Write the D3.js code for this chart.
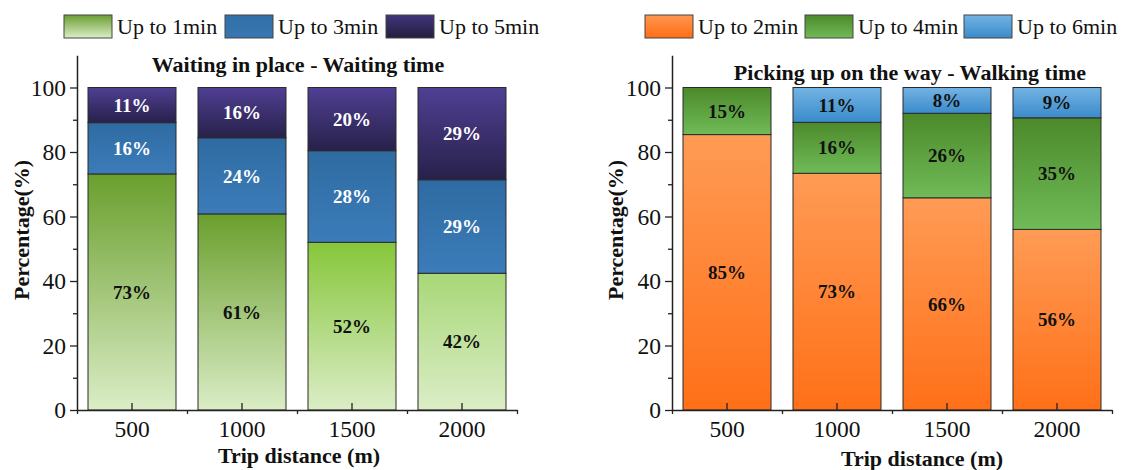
<!DOCTYPE html>
<html>
<head>
<meta charset="utf-8">
<script src="https://cdn.jsdelivr.net/npm/d3@7"></script>
<style>
  html, body { margin: 0; padding: 0; background: #fff; }
  svg { display: block; }
  text { font-family: "Liberation Serif", "Times New Roman", serif; }
</style>
</head>
<body>
<svg id="chart" width="1124" height="470"></svg>
<script>
// ---------- data ----------
const categories = ["500", "1000", "1500", "2000"];
const yTickValues = [0, 20, 40, 60, 80, 100];
const yMinorTickValues = [10, 30, 50, 70, 90];

const leftSeriesNames = ["Up to 1min", "Up to 3min", "Up to 5min"];
const leftUpTo1min = [73.2, 60.8, 52.0, 42.4];
const leftUpTo3min = [15.9, 23.6, 28.4, 29.0];
const leftUpTo5min = [10.9, 15.6, 19.6, 28.6];

const rightSeriesNames = ["Up to 2min", "Up to 4min", "Up to 6min"];
const rightUpTo2min = [85.4, 73.4, 65.8, 56.0];
const rightUpTo4min = [14.6, 15.8, 26.2, 34.6];
const rightUpTo6min = [0, 10.8, 8.0, 9.4];

const leftTitle = "Waiting in place - Waiting time";
const rightTitle = "Picking up on the way - Walking time";
const xAxisTitle = "Trip distance (m)";
const yAxisTitle = "Percentage(%)";

// ---------- styles ----------
const leftStyles = [
  { grads: [["#6a9f2d", "#dbedc6"], ["#6a9f2d", "#dbedc6"], ["#86c63a", "#dbedc6"], ["#a8d778", "#dbedc6"]],
    legend: ["#6a9f30", "#dcedc8"], label: "#111" },
  { grads: [["#2f6ba2", "#3b7cb9"]], legend: ["#3270a9", "#3876b1"], label: "#fff" },
  { grads: [["#503f93", "#27214a"]], legend: ["#41357c", "#221f3e"], label: "#fff" }
];
const rightStyles = [
  { grads: [["#ff9b55", "#ff7018"]], legend: ["#ff9650", "#ff6e15"], label: "#111" },
  { grads: [["#4c892b", "#70bb57"]], legend: ["#4c892b", "#70bb57"], label: "#111" },
  { grads: [["#73b3e3", "#3a8bcb"]], legend: ["#73b3e3", "#3a8bcb"], label: "#111" }
];

const svg = d3.select("#chart");
const defs = svg.append("defs");
let gradId = 0;
function makeGrad(c) {
  const id = "g" + (gradId++);
  const g = defs.append("linearGradient").attr("id", id)
    .attr("x1", 0).attr("y1", 0).attr("x2", 0).attr("y2", 1);
  g.append("stop").attr("offset", "0%").attr("stop-color", c[0]);
  g.append("stop").attr("offset", "100%").attr("stop-color", c[1]);
  return "url(#" + id + ")";
}

const y = d3.scaleLinear().domain([0, 110]).range([410, 410 - 110 * 3.225]);

function drawPanel(cfg) {
  const g = svg.append("g");
  const x = d3.scaleBand().domain(categories).range([cfg.x0, cfg.x1])
    .paddingInner(0.2).paddingOuter(0.1);

  const rows = categories.map((c, i) => {
    const r = { cat: c };
    cfg.names.forEach((n, k) => r[n] = cfg.values[k][i]);
    return r;
  });
  const stacked = d3.stack().keys(cfg.names)(rows);

  stacked.forEach((layer, k) => {
    const st = cfg.styles[k];
    const fills = categories.map((c, i) => makeGrad(st.grads[Math.min(i, st.grads.length - 1)]));
    const lg = g.append("g");
    lg.selectAll("rect").data(layer.filter(d => d[1] - d[0] > 0)).join("rect")
      .attr("x", d => x(d.data.cat))
      .attr("y", d => y(d[1]))
      .attr("width", x.bandwidth())
      .attr("height", d => y(d[0]) - y(d[1]))
      .attr("fill", d => fills[categories.indexOf(d.data.cat)])
      .attr("stroke", "#2b2b2b")
      .attr("stroke-width", 1);
    lg.selectAll("text").data(layer.filter(d => d[1] - d[0] > 0)).join("text")
      .attr("x", d => x(d.data.cat) + x.bandwidth() / 2)
      .attr("y", d => y((d[0] + d[1]) / 2))
      .attr("dy", "0.35em")
      .attr("text-anchor", "middle")
      .attr("font-weight", "bold")
      .attr("font-size", 19)
      .attr("fill", st.label)
      .text(d => d3.format(".0f")(d[1] - d[0]) + "%");
  });

  // y axis
  g.append("g").attr("transform", `translate(${cfg.x0},0)`)
    .call(d3.axisLeft(y).tickValues(yTickValues).tickSize(7).tickSizeOuter(0).tickPadding(4));
  g.append("g").attr("transform", `translate(${cfg.x0},0)`)
    .call(d3.axisLeft(y).tickValues(yMinorTickValues).tickSize(4).tickSizeOuter(0).tickFormat(""))
    .select(".domain").remove();

  // x axis: centre ticks pointing inward, boundary ticks outward
  g.append("g").attr("transform", "translate(0,410)")
    .call(d3.axisBottom(x).tickSize(-7).tickSizeOuter(0).tickPadding(10));
  const xb = d3.scaleLinear().domain([0, categories.length]).range([cfg.x0, cfg.x1]);
  g.append("g").attr("transform", "translate(0,410)")
    .call(d3.axisBottom(xb).ticks(categories.length).tickSize(4).tickSizeOuter(0).tickFormat(""))
    .select(".domain").remove();

  g.selectAll(".domain").attr("stroke", "#222").attr("stroke-width", 1.5);
  g.selectAll(".tick line").attr("stroke", "#222").attr("stroke-width", 1.3);
  g.selectAll(".tick text").attr("font-family", "Liberation Serif").attr("font-size", 23.5).attr("fill", "#111");

  // titles
  g.append("text").attr("x", cfg.titleX).attr("y", cfg.titleY)
    .attr("text-anchor", "middle").attr("font-weight", "bold").attr("font-size", 22)
    .attr("fill", "#111").text(cfg.title);
  g.append("text").attr("x", cfg.xTitleX).attr("y", cfg.xTitleY)
    .attr("text-anchor", "middle").attr("font-weight", "bold").attr("font-size", 22)
    .attr("fill", "#111").text(xAxisTitle);
  g.append("text")
    .attr("transform", `translate(${cfg.yTitleX},230) rotate(-90)`)
    .attr("text-anchor", "middle").attr("font-weight", "bold").attr("font-size", 22)
    .attr("fill", "#111").text(yAxisTitle);

  // legend
  cfg.names.forEach((n, k) => {
    const lx = cfg.legendX[k];
    g.append("rect").attr("x", lx).attr("y", 15).attr("width", 48).attr("height", 23)
      .attr("fill", makeGrad(cfg.styles[k].legend))
      .attr("stroke", "#444").attr("stroke-width", 1);
    g.append("text").attr("x", lx + 53).attr("y", 34)
      .attr("font-size", 22).attr("fill", "#111").text(n);
  });
}

drawPanel({
  x0: 77, x1: 517,
  names: leftSeriesNames,
  values: [leftUpTo1min, leftUpTo3min, leftUpTo5min],
  styles: leftStyles,
  title: leftTitle, titleX: 298, titleY: 72,
  xTitleX: 299, xTitleY: 463,
  yTitleX: 29,
  legendX: [64, 225, 386]
});

drawPanel({
  x0: 672, x1: 1112,
  names: rightSeriesNames,
  values: [rightUpTo2min, rightUpTo4min, rightUpTo6min],
  styles: rightStyles,
  title: rightTitle, titleX: 910, titleY: 80,
  xTitleX: 922, xTitleY: 466,
  yTitleX: 623,
  legendX: [645, 805, 964]
});
</script>
</body>
</html>
